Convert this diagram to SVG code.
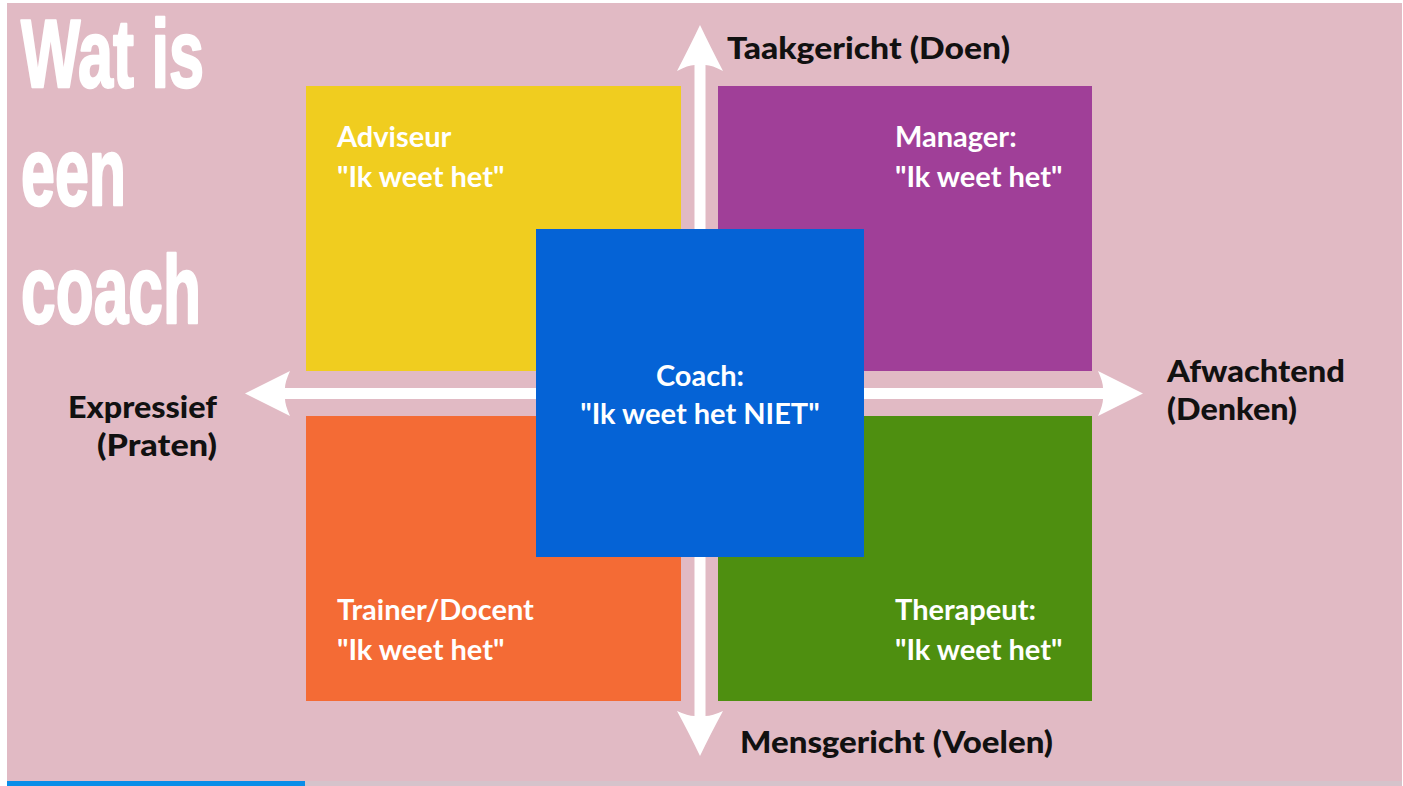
<svg xmlns="http://www.w3.org/2000/svg" width="1403" height="786" viewBox="0 0 1403 786">
<style>
.lbl{font-family:Lato,"Open Sans",sans-serif;font-weight:700;font-size:29px;fill:#ffffff}
.ax{font-family:Lato,"Open Sans",sans-serif;font-weight:900;font-size:31px;fill:#111111}
.title{font-family:"Liberation Sans",Arial,sans-serif;font-weight:700;font-size:96px;fill:#ffffff;stroke:#ffffff;stroke-width:2.5px;stroke-linejoin:round}
.arrow{fill:#ffffff}
</style>
<rect x="0" y="0" width="1403" height="786" fill="#ffffff"/>
<rect x="7" y="3" width="1395" height="778" fill="#e1bac4"/>
<rect x="305" y="781" width="1097" height="5" fill="#d5c3cb"/>
<rect x="7" y="781" width="298" height="5" fill="#0a8de8"/>
<g id="title">
<text class="title" x="21" y="87" textLength="183" lengthAdjust="spacingAndGlyphs">Wat is</text>
<text class="title" x="21" y="205" textLength="105" lengthAdjust="spacingAndGlyphs">een</text>
<text class="title" x="21" y="323" textLength="180" lengthAdjust="spacingAndGlyphs">coach</text>
</g>
<g id="connectors">
<path class="arrow" d="M700,25 Q710,46 723,71 Q712,65 705.5,65 L705.5,716 Q712,716 723,711 Q710,735 700,756 Q690,735 677,711 Q688,716 694.5,716 L694.5,65 Q688,65 677,71 Q690,46 700,25 Z"/>
<path class="arrow" d="M245,393.5 Q266,383 290,371 Q285,382 285,388 L1103,388 Q1103,382 1098,371 Q1122,383 1143,393.5 Q1122,404 1098,416 Q1103,405 1103,399 L285,399 Q285,405 290,416 Q266,404 245,393.5 Z"/>
</g>
<g id="adviseur">
<rect x="306" y="86" width="375" height="285" fill="#f0cd1f"/>
<text class="lbl" x="337" y="147">Adviseur</text>
<text class="lbl" x="337" y="187">"Ik weet het"</text>
</g>
<g id="manager">
<rect x="718" y="86" width="374" height="285" fill="#a03f98"/>
<text class="lbl" x="895" y="147">Manager:</text>
<text class="lbl" x="895" y="187">"Ik weet het"</text>
</g>
<g id="trainer">
<rect x="306" y="416" width="375" height="285" fill="#f46b35"/>
<text class="lbl" x="337" y="620">Trainer/Docent</text>
<text class="lbl" x="337" y="660">"Ik weet het"</text>
</g>
<g id="therapeut">
<rect x="718" y="416" width="374" height="285" fill="#4e8f10"/>
<text class="lbl" x="895" y="620">Therapeut:</text>
<text class="lbl" x="895" y="660">"Ik weet het"</text>
</g>
<g id="coach">
<rect x="536" y="229" width="328" height="328" fill="#0563d6"/>
<text class="lbl" x="700" y="386" text-anchor="middle">Coach:</text>
<text class="lbl" x="700" y="424" text-anchor="middle">"Ik weet het NIET"</text>
</g>
<g id="axis-labels">
<text class="ax" x="727" y="59" textLength="283" lengthAdjust="spacingAndGlyphs">Taakgericht (Doen)</text>
<text class="ax" x="740" y="753" textLength="313" lengthAdjust="spacingAndGlyphs">Mensgericht (Voelen)</text>
<text class="ax" x="217" y="418" text-anchor="end" textLength="149" lengthAdjust="spacingAndGlyphs">Expressief</text>
<text class="ax" x="217" y="456" text-anchor="end" textLength="120" lengthAdjust="spacingAndGlyphs">(Praten)</text>
<text class="ax" x="1167" y="382" textLength="178" lengthAdjust="spacingAndGlyphs">Afwachtend</text>
<text class="ax" x="1167" y="420" textLength="130" lengthAdjust="spacingAndGlyphs">(Denken)</text>
</g>
</svg>
